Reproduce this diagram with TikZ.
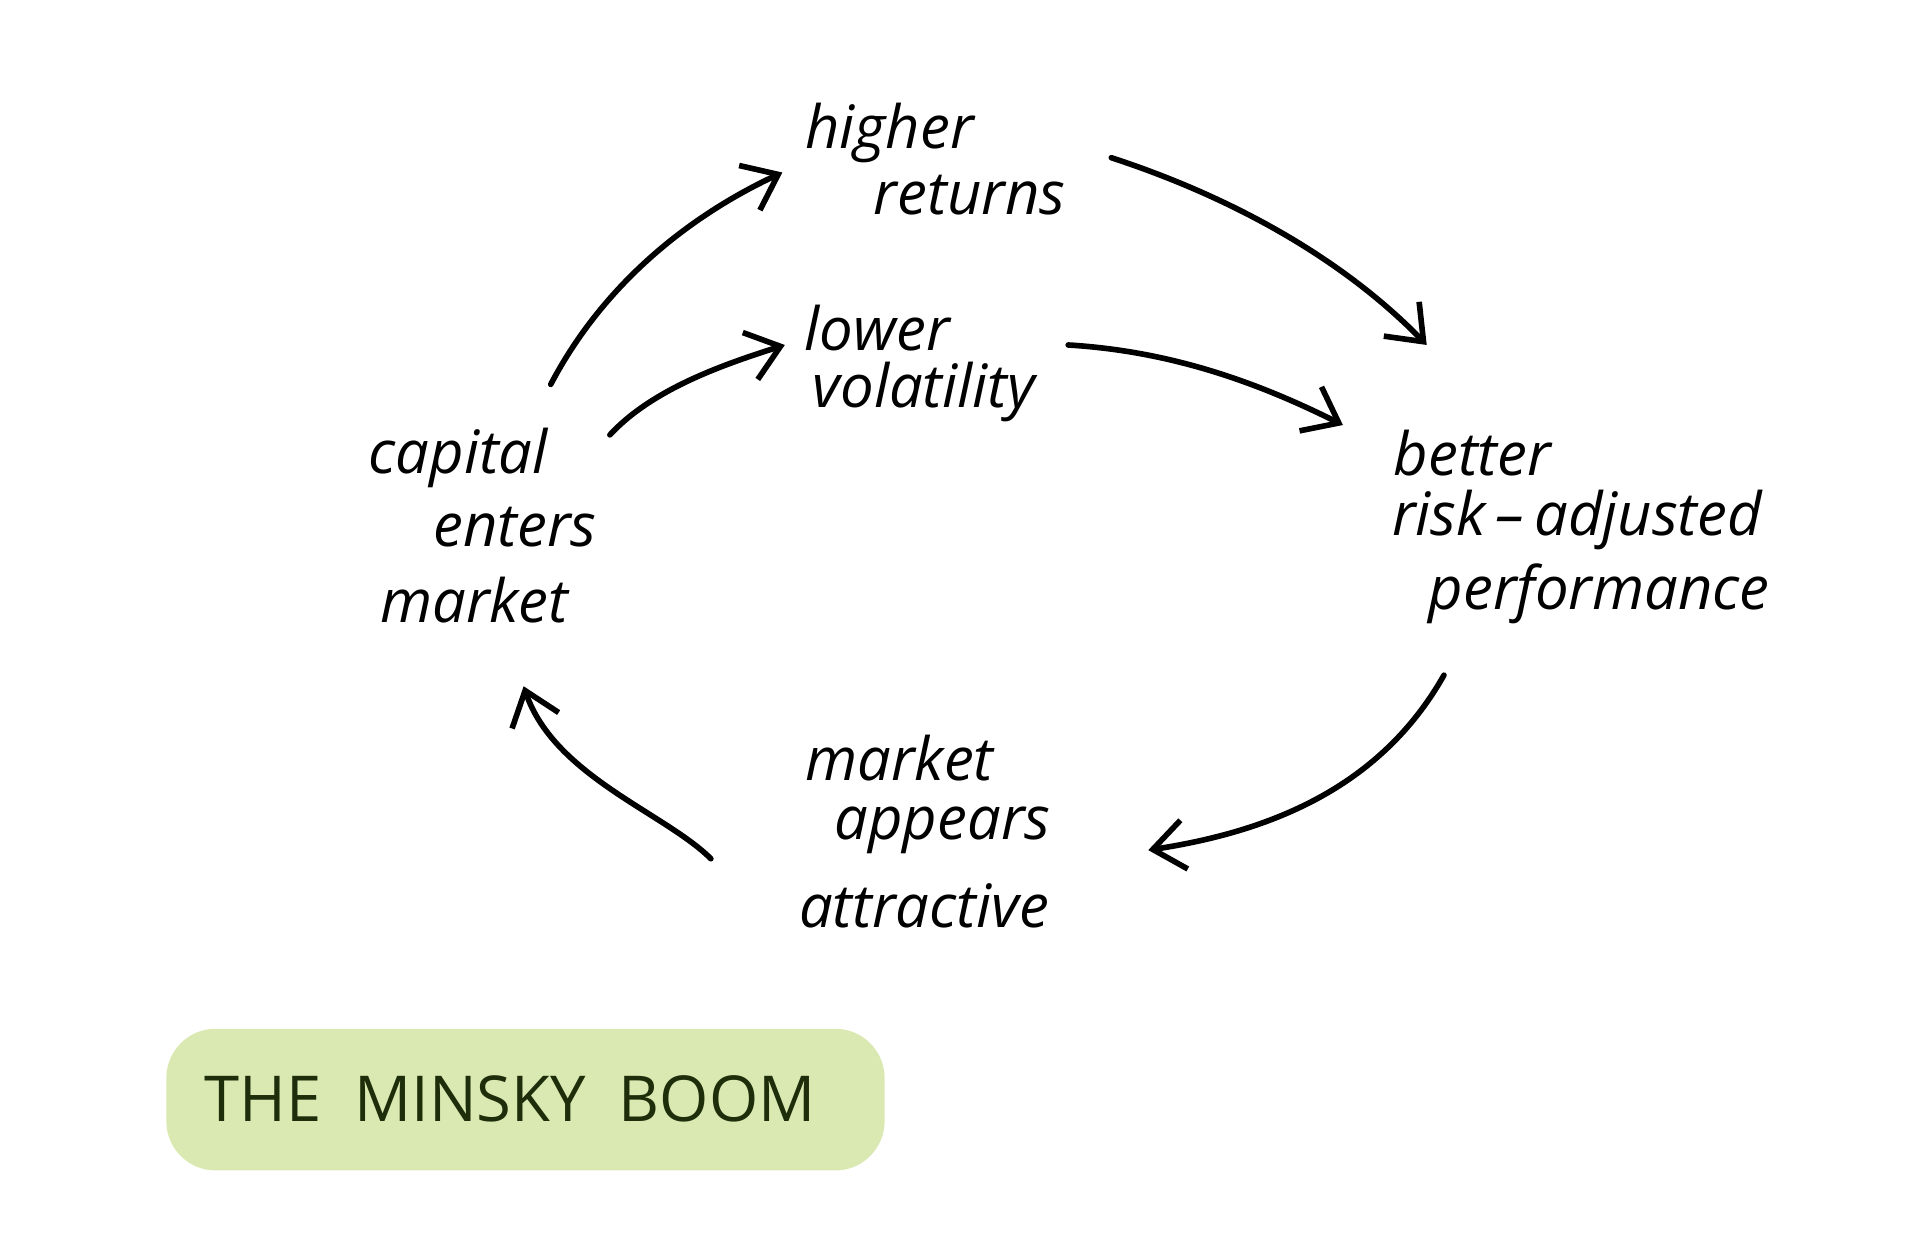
\documentclass[tikz,border=0pt]{standalone}
\usepackage{fontspec}
\setmainfont{Open Sans}
\usetikzlibrary{arrows.meta}
\begin{document}
\begin{tikzpicture}[x=0.01232cm,y=-0.01232cm,
  lbl/.style={font=\fontsize{17}{20}\selectfont\itshape, inner sep=0pt},
  arr/.style={line width=1.6pt, -{Straight Barb[length=9pt,width=14pt]}, line cap=round}]
\useasboundingbox (0,0) rectangle (1560,1009);
\node[lbl] (h1) at (722,108) {higher};
\node[lbl] (h2) at (787,158) {returns};
\node[lbl] (l1) at (712,266) {lower};
\node[lbl] (l2) at (750,318) {volatility};
\node[lbl] (c1) at (372,372) {capital};
\node[lbl] (c2) at (418,428) {enters};
\node[lbl] (c3) at (385,487) {market};
\node[lbl] (b1) at (1195,368) {better};
\node[lbl] (b2) at (1280,422) {risk\,–\,adjusted};
\node[lbl] (b3) at (1298,482) {performance};
\node[lbl] (m1) at (730,615) {market};
\node[lbl] (m2) at (765,674) {appears};
\node[lbl] (m3) at (750,735) {attractive};
\coordinate (a1s) at (447,312); \coordinate (a1e) at (635,140);
\coordinate (a2s) at (495,353); \coordinate (a2e) at (637,280);
\coordinate (a3s) at (902,128); \coordinate (a3e) at (1158,280);
\coordinate (a4s) at (867,280); \coordinate (a4e) at (1090,345);
\coordinate (a5s) at (1172,548); \coordinate (a5e) at (932,690);
\coordinate (a6s) at (577,697); \coordinate (a6e) at (425,557);
\draw[arr] (a1s) .. controls (490,230) and (560,175) .. (a1e);
\draw[arr] (a2s) .. controls (530,315) and (590,295) .. (a2e);
\draw[arr] (a3s) .. controls (1000,160) and (1090,210) .. (a3e);
\draw[arr] (a4s) .. controls (950,285) and (1020,310) .. (a4e);
\draw[arr] (a5s) .. controls (1120,640) and (1030,675) .. (a5e);
\draw[arr] (a6s) .. controls (540,660) and (450,630) .. (a6e);
\fill[fill={rgb,255:red,218;green,233;blue,178}, rounded corners=14pt] (135,835) rectangle (718,950);
\node[font=\fontsize{18}{22}\selectfont, text={rgb,255:red,30;green,45;blue,10}] (t) at (414,892) {THE\ \ MINSKY\ \ BOOM};
\end{tikzpicture}
\end{document}
